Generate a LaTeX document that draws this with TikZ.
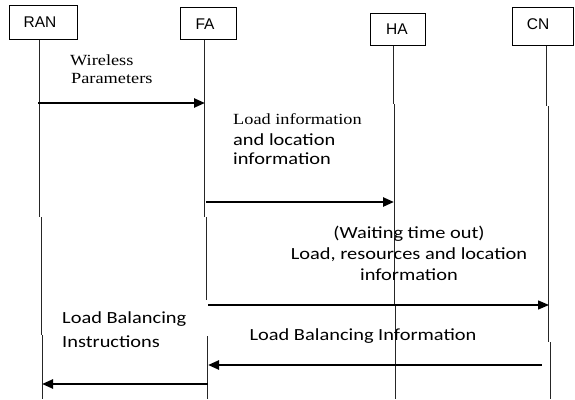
\documentclass[tikz,border=0pt]{standalone}
\usepackage{fontspec}
\setmainfont{Liberation Serif}
\newfontfamily\calfont{Carlito}
\newfontfamily\arfont{Liberation Sans}
\usetikzlibrary{arrows.meta}
\newcommand\sx[1]{\scalebox{1.2}[1]{#1}}
\newcommand\sy[1]{\scalebox{1.18}[1]{#1}}
\begin{document}
\begin{tikzpicture}[x=1pt,y=-1pt,
 box/.style={draw, line width=1pt, inner sep=0pt},
 lbl/.style={font=\arfont\fontsize{15.5}{18}\selectfont, inner sep=0pt, anchor=base},
 life/.style={line width=1pt, draw=black!85},
 msg/.style={line width=2.4pt, -{Triangle[length=11pt,width=9pt]}},
 thinmsg/.style={line width=1.4pt, -{Triangle[length=11pt,width=9pt]}},
 sans/.style={font=\calfont\fontsize{17}{20}\selectfont, inner sep=0pt},
 serif/.style={font=\fontsize{15.5}{18}\selectfont, inner sep=0pt},
]
\useasboundingbox (0,0) rectangle (575,399);
% boxes
\node[box, minimum width=68pt, minimum height=34pt] (ran) at (43,22) {};
\node[box, minimum width=56pt, minimum height=32pt] (fa) at (208,23) {};
\node[box, minimum width=55pt, minimum height=32pt] (ha) at (397.5,29) {};
\node[box, minimum width=61pt, minimum height=38pt] (cn) at (542.5,26) {};
\node[lbl] (ranl) at (40,27) {RAN};
\node[lbl] (fal) at (205,29) {FA};
\node[lbl] (hal) at (397,34) {HA};
\node[lbl] (cnl) at (538,29) {CN};
% lifelines
\draw[life] (ran.south -| 39,0) -- (39,217) (41,217) -- (41,335) (42,335) -- (42,399);
\draw[life] (fa.south -| 204,0) -- (204,217) (206,217) -- (206,300) (207.7,336) -- (207.7,399);
\draw[life] (ha.south -| 393,0) -- (393,104) (394,104) -- (394,305) (395.5,305) -- (395.5,399);
\draw[life] (cn.south -| 546.7,0) -- (546.7,106) (548.3,106) -- (548.3,342) (550,342) -- (550,399);
% message end points
\coordinate (m1a) at (38,103);  \coordinate (m1b) at (205,103);
\coordinate (m2a) at (206,202); \coordinate (m2b) at (394,202);
\coordinate (m3a) at (208,305); \coordinate (m3b) at (549,305);
\coordinate (m4a) at (541.7,365); \coordinate (m4b) at (208,365);
\coordinate (m5a) at (208,384); \coordinate (m5b) at (42,384);
\draw[msg] (m1a) -- (m1b);
\draw[msg] (m2a) -- (m2b);
\draw[thinmsg] (m3a) -- (m3b);
\draw[msg] (m4a) -- (m4b);
\draw[msg] (m5a) -- (m5b);
% labels
\node[serif, anchor=base west] (t1) at (70,65) {\sy{Wireless}};
\node[serif, anchor=base west] (t2) at (71,83) {\sy{Parameters}};
\node[serif, anchor=base west] (t3) at (233,124) {\sy{Load information}};
\node[sans, anchor=base west] (t4) at (233,145) {\sx{and location}};
\node[sans, anchor=base west] (t5) at (233,164) {\sx{information}};
\node[sans, anchor=base] (t6) at (409,238) {\sx{(Waiting time out)}};
\node[sans, anchor=base] (t7) at (409,259) {\sx{Load, resources and location}};
\node[sans, anchor=base] (t8) at (409,280) {\sx{information}};
\node[sans, anchor=base] (t9) at (363,340) {\sx{Load Balancing Information}};
\node[sans, anchor=base west] (t10) at (62,323) {\sx{Load Balancing}};
\node[sans, anchor=base west] (t11) at (62,347) {\sx{Instructions}};
\end{tikzpicture}
\end{document}
